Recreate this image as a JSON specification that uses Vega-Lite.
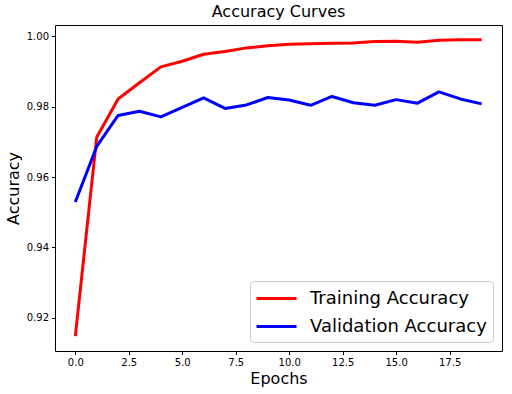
{
  "$schema": "https://vega.github.io/schema/vega-lite/v6.json",
  "width": 447,
  "height": 326,
  "autosize": {"type": "none"},
  "padding": {"left": 55, "top": 25, "right": 10, "bottom": 43},
  "background": "white",
  "title": {"text": "Accuracy Curves", "fontSize": 16, "font": "DejaVu Sans", "fontWeight": "normal", "color": "black", "anchor": "middle", "offset": 5},
  "config": {
    "view": {"stroke": "black", "strokeWidth": 1},
    "font": "DejaVu Sans"
  },
  "data": {"values": [
    {"epoch": 0, "series": "Training Accuracy", "acc": 0.9148},
    {"epoch": 1, "series": "Training Accuracy", "acc": 0.9713},
    {"epoch": 2, "series": "Training Accuracy", "acc": 0.9822},
    {"epoch": 3, "series": "Training Accuracy", "acc": 0.9868},
    {"epoch": 4, "series": "Training Accuracy", "acc": 0.9913},
    {"epoch": 5, "series": "Training Accuracy", "acc": 0.9929},
    {"epoch": 6, "series": "Training Accuracy", "acc": 0.9949},
    {"epoch": 7, "series": "Training Accuracy", "acc": 0.9957},
    {"epoch": 8, "series": "Training Accuracy", "acc": 0.9967},
    {"epoch": 9, "series": "Training Accuracy", "acc": 0.9973},
    {"epoch": 10, "series": "Training Accuracy", "acc": 0.9977},
    {"epoch": 11, "series": "Training Accuracy", "acc": 0.9979},
    {"epoch": 12, "series": "Training Accuracy", "acc": 0.998},
    {"epoch": 13, "series": "Training Accuracy", "acc": 0.9981},
    {"epoch": 14, "series": "Training Accuracy", "acc": 0.9985},
    {"epoch": 15, "series": "Training Accuracy", "acc": 0.9986},
    {"epoch": 16, "series": "Training Accuracy", "acc": 0.9983},
    {"epoch": 17, "series": "Training Accuracy", "acc": 0.9989},
    {"epoch": 18, "series": "Training Accuracy", "acc": 0.999},
    {"epoch": 19, "series": "Training Accuracy", "acc": 0.999},
    {"epoch": 0, "series": "Validation Accuracy", "acc": 0.9529},
    {"epoch": 1, "series": "Validation Accuracy", "acc": 0.9687},
    {"epoch": 2, "series": "Validation Accuracy", "acc": 0.9775},
    {"epoch": 3, "series": "Validation Accuracy", "acc": 0.9787},
    {"epoch": 4, "series": "Validation Accuracy", "acc": 0.9771},
    {"epoch": 5, "series": "Validation Accuracy", "acc": 0.9798},
    {"epoch": 6, "series": "Validation Accuracy", "acc": 0.9825},
    {"epoch": 7, "series": "Validation Accuracy", "acc": 0.9795},
    {"epoch": 8, "series": "Validation Accuracy", "acc": 0.9805},
    {"epoch": 9, "series": "Validation Accuracy", "acc": 0.9826},
    {"epoch": 10, "series": "Validation Accuracy", "acc": 0.9819},
    {"epoch": 11, "series": "Validation Accuracy", "acc": 0.9804},
    {"epoch": 12, "series": "Validation Accuracy", "acc": 0.9829},
    {"epoch": 13, "series": "Validation Accuracy", "acc": 0.9811},
    {"epoch": 14, "series": "Validation Accuracy", "acc": 0.9804},
    {"epoch": 15, "series": "Validation Accuracy", "acc": 0.982},
    {"epoch": 16, "series": "Validation Accuracy", "acc": 0.981},
    {"epoch": 17, "series": "Validation Accuracy", "acc": 0.9842},
    {"epoch": 18, "series": "Validation Accuracy", "acc": 0.9822},
    {"epoch": 19, "series": "Validation Accuracy", "acc": 0.9808}
  ]},
  "mark": {"type": "line", "strokeWidth": 3, "strokeJoin": "round", "clip": true},
  "encoding": {
    "x": {
      "field": "epoch", "type": "quantitative",
      "scale": {"domain": [-0.95, 19.95], "nice": false, "zero": false},
      "axis": {
        "title": "Epochs", "titleFontSize": 16, "titleFontWeight": "normal", "titleColor": "black", "titlePadding": 3,
        "values": [0, 2.5, 5, 7.5, 10, 12.5, 15, 17.5], "format": ".1f",
        "labelFontSize": 10, "labelColor": "black", "labelPadding": 3,
        "tickSize": 3.5, "tickColor": "black", "domain": false, "grid": false
      }
    },
    "y": {
      "field": "acc", "type": "quantitative",
      "scale": {"domain": [0.9106, 1.0032], "nice": false, "zero": false},
      "axis": {
        "title": "Accuracy", "titleFontSize": 16, "titleFontWeight": "normal", "titleColor": "black", "titlePadding": 5,
        "values": [0.92, 0.94, 0.96, 0.98, 1.0], "format": ".2f",
        "labelFontSize": 10, "labelColor": "black", "labelPadding": 3,
        "tickSize": 3.5, "tickColor": "black", "domain": false, "grid": false
      }
    },
    "color": {
      "field": "series", "type": "nominal",
      "scale": {"domain": ["Training Accuracy", "Validation Accuracy"], "range": ["red", "blue"]},
      "legend": {
        "title": null, "orient": "bottom-right", "offset": 9,
        "symbolType": "M-2,0H2", "symbolSize": 400, "symbolStrokeWidth": 3, "symbolOffset": 9,
        "labelFontSize": 18, "labelColor": "black", "labelOffset": 22, "labelLimit": 400,
        "rowPadding": 7, "padding": 6,
        "strokeColor": "#cccccc", "fillColor": "white", "cornerRadius": 4
      }
    }
  }
}
